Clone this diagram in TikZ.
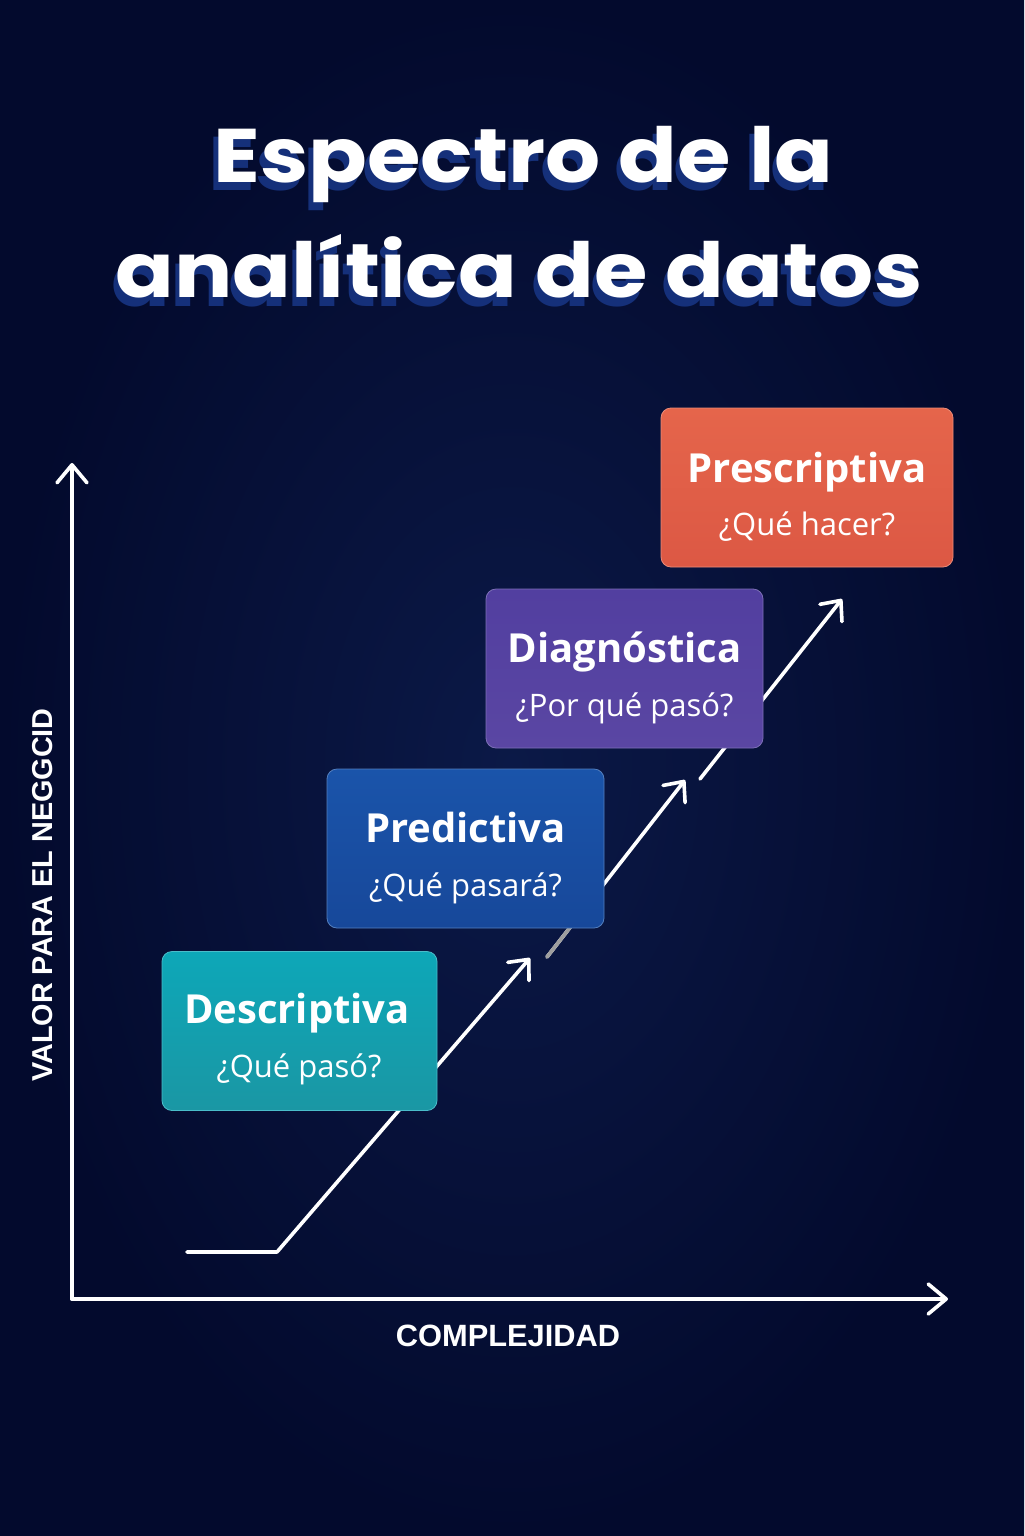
\documentclass[tikz,border=0pt]{standalone}
\usepackage{fontspec}
\setmainfont{Open Sans}
\newfontfamily\titlefont{Poppins}
\newfontfamily\axisfont{Liberation Sans}
\usetikzlibrary{arrows.meta,calc}
\definecolor{bgin}{HTML}{0B1947}
\definecolor{bgout}{HTML}{030A2D}
\definecolor{shadowc}{HTML}{15307A}
\definecolor{tealA}{HTML}{0DA7B8}
\definecolor{tealB}{HTML}{1A97A4}
\definecolor{blueA}{HTML}{1A54AA}
\definecolor{blueB}{HTML}{17489A}
\definecolor{purA}{HTML}{523FA0}
\definecolor{purB}{HTML}{5A46A3}
\definecolor{orA}{HTML}{E5654B}
\definecolor{orB}{HTML}{DC5844}
\newcommand{\widetitle}[1]{\scalebox{1.14}[1]{#1}}
\begin{document}
\begin{tikzpicture}[x=0.5pt,y=-0.5pt,
  axisline/.style={draw=white, line width=1.8pt, line cap=round,
    -{Straight Barb[length=9pt,width=15pt,round]}},
  growline/.style={draw=white, line width=1.8pt, line cap=round, line join=round},
  growarrow/.style={growline, -{Straight Barb[length=8pt,width=14pt,round]}},
  stagebox/.style 2 args={rounded corners=5pt, inner sep=0pt, minimum height=79.5pt,
    top color=#1, bottom color=#2, draw=#1!75!white, line width=0.4pt},
  boxtitle/.style={anchor=base, text=white, font=\bfseries\fontsize{20}{24}\selectfont},
  boxsub/.style={anchor=base, text=white, font=\fontsize{15.5}{19}\selectfont},
  titletext/.style={anchor=base, font=\titlefont\bfseries\fontsize{38}{42}\selectfont},
  axislabel/.style={text=white, font=\axisfont\bfseries\fontsize{15}{18}\selectfont}
]
\useasboundingbox (0,0) rectangle (1024,1536);
\fill[inner color=bgin, outer color=bgout] (0,0) rectangle (1024,1536);

% title with shadow
\node[titletext, text=shadowc] (t1s) at (519,191) {\widetitle{Espectro de la}};
\node[titletext, text=shadowc] (t2s) at (515,306) {\widetitle{analítica de datos}};
\node[titletext, text=white] (t1) at (523.5,182) {\widetitle{Espectro de la}};
\node[titletext, text=white] (t2) at (519,297) {\widetitle{analítica de datos}};

% axes
\coordinate (O) at (72,1299);
\coordinate (ytip) at (72,463);
\coordinate (xtip) at (948,1299);
\draw[axisline] (O) -- (ytip);
\draw[axisline] (O) -- (xtip);
\node[axislabel, rotate=90, font=\axisfont\bfseries\fontsize{14.4}{18}\selectfont] (ylab) at (43,895) {VALOR PARA EL NEGGCID};
\node[axislabel, font=\axisfont\bfseries\fontsize{15.4}{18}\selectfont] (xlab) at (508,1336) {COMPLEJIDAD};

% growth line
\coordinate (g0) at (187,1252);
\coordinate (g1) at (277,1252);
\coordinate (g2) at (530,958);
\coordinate (g3s) at (547,957);
\coordinate (g3) at (685,780);
\coordinate (g4s) at (700,779);
\coordinate (g4) at (842,599);
\draw[growarrow] (g0) -- (g1) -- (g2);
\draw[growarrow] (g3s) -- (g3);
\draw[line width=1.8pt, line cap=round, draw=gray!75] (g3s) -- ($(g3s)!0.3!(g3)$);
\draw[growarrow] (g4s) -- (g4);

% boxes
\node[stagebox={tealA}{tealB}, minimum width=137.5pt] (desc) at (299.5,1031) {};
\node[stagebox={blueA}{blueB}, minimum width=138.5pt] (pred) at (465.5,848.5) {};
\node[stagebox={purA}{purB}, minimum width=138.5pt] (diag) at (624.5,668.5) {};
\node[stagebox={orA}{orB}, minimum width=146pt] (pres) at (807,487.5) {};

\node[boxtitle] (desct) at (297,1023) {Descriptiva};
\node[boxsub] (descs) at (299,1077) {¿Qué pasó?};
\node[boxtitle] (predt) at (465.5,842) {Predictiva};
\node[boxsub] (preds) at (465.5,896) {¿Qué pasará?};
\node[boxtitle] (diagt) at (624.5,662) {Diagnóstica};
\node[boxsub] (diags) at (624.5,716) {¿Por qué pasó?};
\node[boxtitle] (prest) at (807,482) {Prescriptiva};
\node[boxsub] (press) at (807,535) {¿Qué hacer?};
\end{tikzpicture}
\end{document}
